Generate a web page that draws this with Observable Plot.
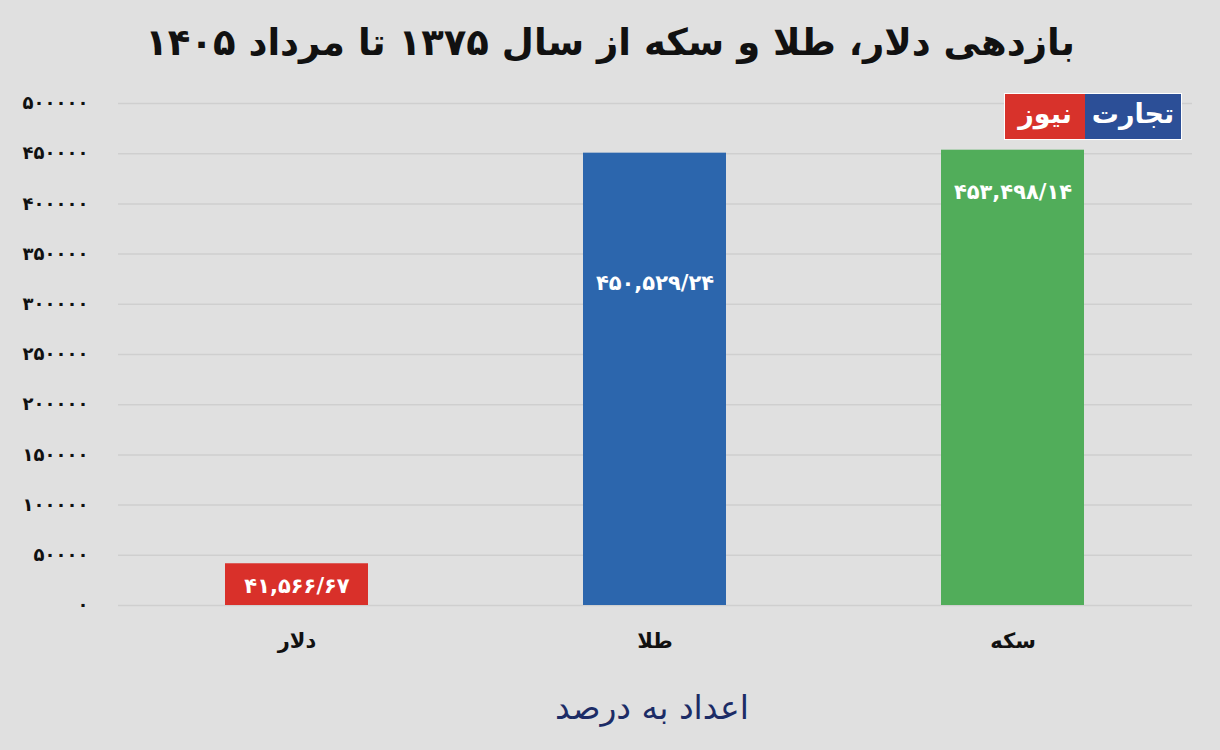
<!DOCTYPE html>
<html><head><meta charset="utf-8">
<script src="https://cdn.jsdelivr.net/npm/d3@7"></script>
<script src="https://cdn.jsdelivr.net/npm/@observablehq/plot@0.6"></script>
<style>
html,body{margin:0;padding:0;background:#e0e0e0;}
body{width:1220px;height:750px;position:relative;overflow:hidden;font-family:"DejaVu Sans",sans-serif;}
#title{height:80px;line-height:86px;text-align:center;font-weight:bold;font-size:37px;color:#111;direction:rtl;}
#chart{height:600px;}
#caption{position:absolute;top:688px;left:0;width:1304px;text-align:center;font-size:33px;color:#1c2c66;direction:rtl;}
#logo{position:absolute;left:1004px;top:93px;width:178px;height:47px;display:flex;direction:ltr;background:#fff;padding:1px;box-sizing:border-box;}
#logo .r{background:#d8322b;width:80px;color:#fff;font-weight:bold;font-size:27px;text-align:center;line-height:40px;direction:rtl;}
#logo .b{background:#2c4f97;flex:1;color:#fff;font-weight:bold;font-size:27px;text-align:center;line-height:40px;direction:rtl;}
</style></head>
<body>
<div id="title">بازدهی دلار، طلا و سکه از سال ۱۳۷۵ تا مرداد ۱۴۰۵</div>
<div id="chart"></div>
<div id="caption">اعداد به درصد</div>
<div id="logo"><div class="r">نیوز</div><div class="b">تجارت</div></div>
<script>
const categories = ["دلار", "طلا", "سکه"];
const values = [41566.67, 450529.24, 453498.14];
const valueLabels = ["۴۱,۵۶۶/۶۷", "۴۵۰,۵۲۹/۲۴", "۴۵۳,۴۹۸/۱۴"];
const colors = ["#d9302a", "#2c66ad", "#51ad5a"];
const yTicks = [0, 50000, 100000, 150000, 200000, 250000, 300000, 350000, 400000, 450000, 500000];

const data = categories.map((c, i) => ({cat: c, value: values[i], label: valueLabels[i], color: colors[i]}));
const fa = n => String(n).replace(/\d/g, d => "۰۱۲۳۴۵۶۷۸۹"[d]);

const labelStyle = {x: "cat", y: "value", text: "label", fill: "white", fontWeight: "bold", fontSize: 21};

const plot = Plot.plot({
  width: 1220,
  height: 600,
  marginTop: 23,
  marginBottom: 75,
  marginLeft: 118,
  marginRight: 28,
  style: {background: "transparent", fontFamily: "DejaVu Sans, sans-serif"},
  x: {domain: categories, paddingInner: 0.6, paddingOuter: 0.3, label: null},
  y: {domain: [0, 500000], label: null},
  marks: [
    Plot.gridY(yTicks, {stroke: "#cfcfcf", strokeOpacity: 1, strokeWidth: 1.5}),
    Plot.barY(data, {x: "cat", y: "value", fill: "color"}),
    Plot.text(data, {...labelStyle, filter: d => d.cat === "دلار", dy: 22}),
    Plot.text(data, {...labelStyle, filter: d => d.cat === "طلا", dy: 130}),
    Plot.text(data, {...labelStyle, filter: d => d.cat === "سکه", dy: 42}),
    Plot.axisY({ticks: yTicks, tickFormat: fa, tickSize: 0, tickPadding: 30, fontSize: 18, fontWeight: "bold", fill: "#111", label: null}),
    Plot.axisX({tickSize: 0, tickPadding: 28, fontSize: 21, fontWeight: "bold", fill: "#111", label: null})
  ]
});
document.getElementById("chart").appendChild(plot);
</script>
</body></html>
